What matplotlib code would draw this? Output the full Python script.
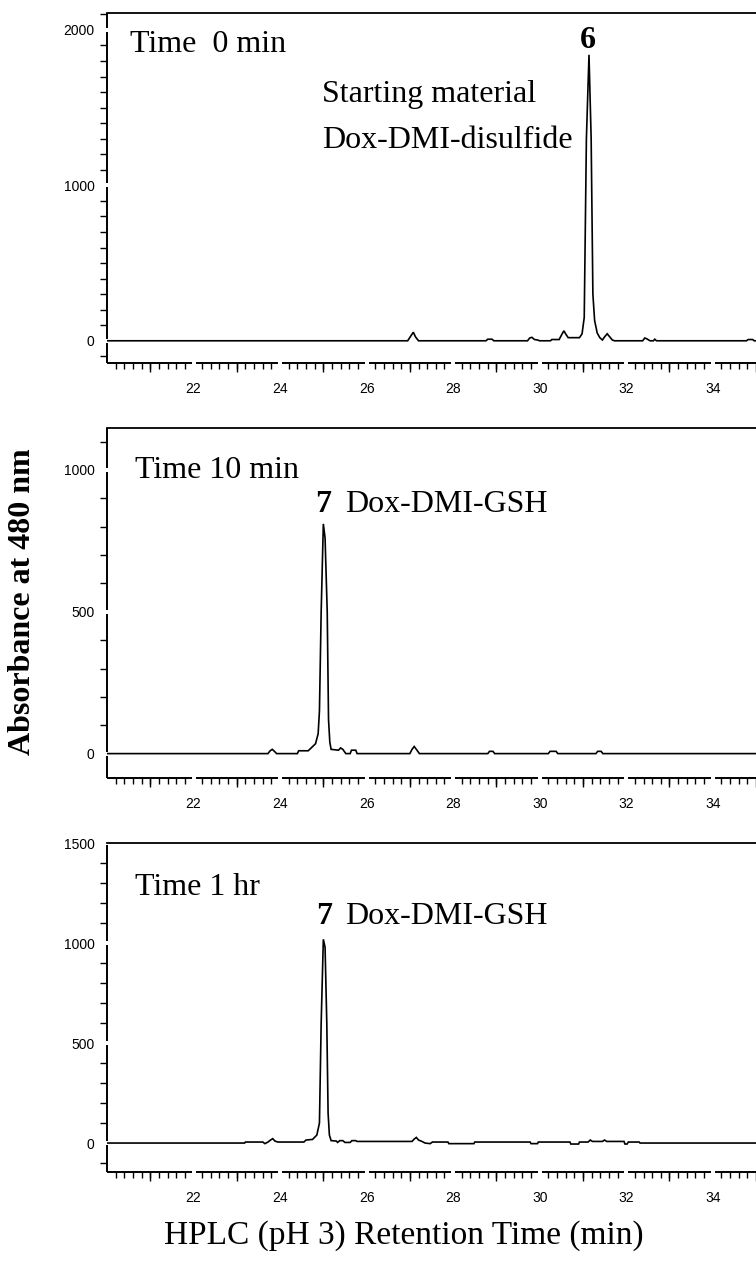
import matplotlib
matplotlib.use("Agg")
import matplotlib.pyplot as plt
import numpy as np

# ---------------- data ----------------
t_0min = [20.00, 26.95, 27.02, 27.08, 27.13, 27.20, 28.76, 28.80, 28.90, 28.94,
          29.72, 29.77, 29.82, 29.88, 29.95, 30.00, 30.25, 30.28, 30.45, 30.52,
          30.56, 30.61, 30.66, 30.92, 30.98, 31.03, 31.08, 31.14, 31.19, 31.23,
          31.27, 31.33, 31.39, 31.45, 31.50, 31.56, 31.62, 31.68, 31.73, 32.38,
          32.43, 32.48, 32.55, 32.63, 32.66, 32.70, 34.78, 34.82, 34.92, 34.96, 35.00]
a_0min = [0, 0, 30, 55, 25, 0, 0, 10, 10, 0,
          0, 18, 22, 8, 5, 0, 0, 8, 8, 45,
          64, 40, 20, 20, 45, 150, 1300, 1840, 1300, 300,
          130, 50, 20, 5, 25, 45, 25, 5, 0, 0,
          18, 12, 0, 0, 10, 0, 0, 8, 8, 0, 0]

t_10min = [20.00, 23.72, 23.77, 23.82, 23.87, 23.92, 24.40, 24.43, 24.65, 24.72,
           24.82, 24.88, 24.91, 24.95, 25.00, 25.04, 25.09, 25.12, 25.15, 25.18,
           25.35, 25.40, 25.45, 25.52, 25.62, 25.65, 25.75, 25.78, 27.00, 27.05,
           27.10, 27.15, 27.22, 28.80, 28.84, 28.92, 28.96, 30.20, 30.24, 30.38,
           30.42, 31.30, 31.34, 31.42, 31.46, 35.00]
a_10min = [0, 0, 10, 15, 8, 0, 0, 10, 10, 20,
           35, 70, 150, 500, 810, 760, 500, 120, 40, 15,
           12, 20, 15, 0, 0, 12, 12, 0, 0, 15,
           25, 15, 0, 0, 8, 8, 0, 0, 8, 8,
           0, 0, 8, 8, 0, 0]

t_1hr = [20.00, 23.18, 23.20, 23.60, 23.65, 23.72, 23.78, 23.83, 23.88, 23.95,
         24.55, 24.60, 24.75, 24.85, 24.91, 24.95, 25.00, 25.04, 25.08, 25.11,
         25.14, 25.18, 25.30, 25.33, 25.38, 25.45, 25.50, 25.62, 25.66, 25.75,
         25.78, 27.05, 27.10, 27.15, 27.20, 27.28, 27.35, 27.47, 27.52, 27.88,
         27.90, 28.48, 28.50, 29.78, 29.80, 29.95, 29.97, 30.70, 30.72, 30.90,
         30.92, 31.12, 31.17, 31.22, 31.45, 31.50, 31.55, 31.95, 31.97, 32.02,
         32.05, 32.30, 32.32, 35.00]
a_1hr = [0, 0, 5, 5, -3, 5, 15, 22, 10, 5,
         5, 15, 18, 40, 100, 600, 1020, 980, 600, 150,
         40, 12, 10, 3, 12, 12, 3, 3, 12, 12,
         8, 8, 20, 28, 15, 8, 0, -3, 5, 5,
         -3, -3, 5, 5, -3, -3, 5, 5, -5, -5,
         5, 5, 15, 8, 8, 15, 8, 8, -5, -5,
         5, 5, 0, 0]

x_tick_values = [22, 24, 26, 28, 30, 32, 34]
y_tick_values = [[0, 1000, 2000], [0, 500, 1000], [0, 500, 1000, 1500]]
panel_times = ["Time  0 min", "Time 10 min", "Time 1 hr"]
x_label = "HPLC (pH 3) Retention Time (min)"
y_label = "Absorbance at 480 nm"

# ---------------- layout ----------------
W, H = 756, 1262
fig = plt.figure(figsize=(W / 100, H / 100), dpi=100)

boxes = [(107, 13, 756, 363), (107, 428, 756, 778), (107, 843, 756, 1172)]
ylims = [(-143, 2109), (-86, 1148), (-145, 1502)]
series = [(t_0min, a_0min), (t_10min, a_10min), (t_1hr, a_1hr)]

serif = "Liberation Serif"
sans = "Liberation Sans"

XMIN, XMAX = 20, 35

for i, box in enumerate(boxes):
    l, t, r, b = box
    ax = fig.add_axes([l / W, 1 - b / H, (r - l) / W, (b - t) / H])
    wpx, hpx = r - l, b - t
    tt, aa = series[i]
    ax.plot(tt, aa, color="black", lw=1.2, solid_joinstyle="miter")
    ax.set_xlim(XMIN, XMAX)
    ax.set_ylim(*ylims[i])
    for s in ["right", "bottom", "left"]:
        ax.spines[s].set_visible(False)
    ax.spines["top"].set_linewidth(1.3)

    # bottom axis line with gaps at labelled values
    gx = 2.0 / wpx * (XMAX - XMIN)
    start = XMIN
    for e in x_tick_values:
        ax.plot([start, e - gx], [0, 0], transform=ax.get_xaxis_transform(),
                color="black", lw=1.4, clip_on=False, solid_capstyle="butt")
        start = e + gx
    ax.plot([start, XMAX], [0, 0], transform=ax.get_xaxis_transform(),
            color="black", lw=1.4, clip_on=False, solid_capstyle="butt")

    # left axis line with gaps at labelled values
    y0, y1 = ylims[i]
    gy = 2.0 / hpx * (y1 - y0)
    start = y0
    for e in y_tick_values[i]:
        if e - gy > start:
            ax.plot([0, 0], [start, e - gy], transform=ax.get_yaxis_transform(),
                    color="black", lw=1.4, clip_on=False, solid_capstyle="butt")
        start = e + gy
    if y1 > start:
        ax.plot([0, 0], [start, y1], transform=ax.get_yaxis_transform(),
                color="black", lw=1.4, clip_on=False, solid_capstyle="butt")

    # x ticks
    ax.set_xticks(x_tick_values)
    ax.set_xticklabels([str(v) for v in x_tick_values], fontfamily=sans)
    minor_x = [v / 5 for v in range(XMIN * 5 + 1, XMAX * 5) if (v / 5) % 2 != 0]
    ax.set_xticks(minor_x, minor=True)
    ax.tick_params(axis="x", which="major", length=0, pad=14, labelsize=10)
    ax.tick_params(axis="x", which="minor", length=4, width=1.0, direction="out")
    odd = list(range(XMIN + 1, XMAX + 1, 2))
    ax.vlines(odd, -9.0 / hpx, 0, transform=ax.get_xaxis_transform(),
              color="black", lw=1.0, clip_on=False)

    # y ticks
    ax.set_yticks(y_tick_values[i])
    ax.set_yticklabels([str(v) for v in y_tick_values[i]], fontfamily=sans)
    lo = int(np.ceil(y0 / 100.0)) * 100
    minor_y = [v for v in range(lo, int(y1) + 1, 100) if v not in y_tick_values[i]]
    ax.set_yticks(minor_y, minor=True)
    ax.tick_params(axis="y", which="major", length=0, pad=9, labelsize=10)
    ax.tick_params(axis="y", which="minor", length=5, width=1.0, direction="out")

# ---------------- annotations ----------------
def ftext(x, y, s, **kw):
    fig.text(x / W, 1 - y / H, s, **kw)

fs = 23
ftext(130, 52, panel_times[0], fontfamily=serif, fontsize=fs, va="baseline")
ftext(588, 48, "6", fontfamily=serif, fontsize=fs, fontweight="bold", ha="center", va="baseline")
ftext(322, 102, "Starting material", fontfamily=serif, fontsize=fs, va="baseline")
ftext(322, 148, "Dox-DMI-disulfide", fontfamily=serif, fontsize=fs, va="baseline")

ftext(135, 478, panel_times[1], fontfamily=serif, fontsize=fs, va="baseline")
ftext(323, 512, "7", fontfamily=serif, fontsize=fs, fontweight="bold", ha="center", va="baseline")
ftext(345, 512, "Dox-DMI-GSH", fontfamily=serif, fontsize=fs, va="baseline")

ftext(135, 895, panel_times[2], fontfamily=serif, fontsize=fs, va="baseline")
ftext(324, 924, "7", fontfamily=serif, fontsize=fs, fontweight="bold", ha="center", va="baseline")
ftext(345, 924, "Dox-DMI-GSH", fontfamily=serif, fontsize=fs, va="baseline")

ftext(404, 1236, x_label, fontfamily=serif, fontsize=24, ha="center", va="center")
ftext(23, 602, y_label, fontfamily=serif, fontsize=23, fontweight="bold",
      rotation=90, ha="center", va="center")

fig.savefig("out.png", dpi=100)
